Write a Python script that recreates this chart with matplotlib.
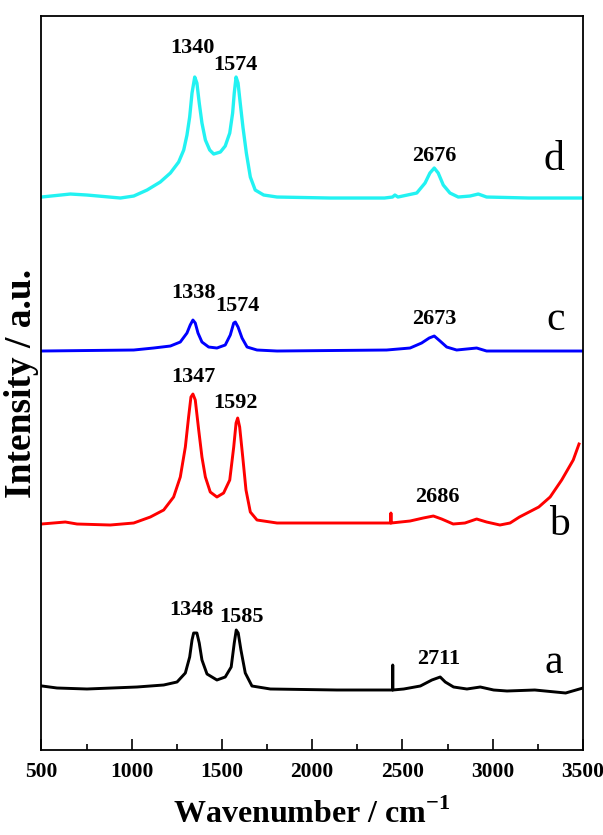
import matplotlib
matplotlib.use('Agg')
import matplotlib.pyplot as plt
from matplotlib.ticker import MultipleLocator

plt.rcParams['font.family'] = 'Liberation Serif'
plt.rcParams['mathtext.fontset'] = 'custom'
plt.rcParams['mathtext.rm'] = 'Liberation Serif'
plt.rcParams['mathtext.bf'] = 'Liberation Serif:bold'

# spectra (wavenumber, intensity in arbitrary units)
d_x = [500, 660, 752, 937, 1011, 1085, 1158, 1214, 1260, 1288, 1306, 1321, 1334, 1349, 1361,
       1374, 1389, 1408, 1432, 1454, 1491, 1518, 1543, 1559, 1568, 1578, 1589, 1601, 1616,
       1635, 1657, 1684, 1731, 1805, 2100, 2400, 2445, 2458, 2475, 2579, 2625, 2652, 2676,
       2698, 2726, 2763, 2809, 2874, 2920, 2966, 3200, 3500]
d_y = [553, 556, 555, 552, 554, 560, 568, 577, 588, 600, 615, 633, 657, 673, 667,
       647, 627, 610, 600, 596, 598, 604, 617, 637, 657, 673, 667, 647, 623,
       597, 573, 560, 555, 553, 552, 552, 553, 555, 553, 557, 567, 577, 582,
       577, 565, 557, 553, 554, 556, 553, 552, 552]

c_x = [500, 1011, 1121, 1214, 1269, 1306, 1324, 1339, 1352, 1367, 1389, 1426, 1472, 1518,
       1546, 1565, 1574, 1589, 1611, 1639, 1694, 1805, 2412, 2542, 2606, 2648, 2676, 2708,
       2745, 2800, 2911, 2966, 3500]
c_y = [399, 400, 402, 404, 408, 417, 425, 430, 427, 417, 408, 403, 402, 405,
       415, 427, 428, 423, 412, 403, 400, 399, 400, 402, 407, 412, 414, 409,
       403, 400, 402, 399, 399]

b_x = [500, 632, 697, 881, 1011, 1103, 1177, 1232, 1269, 1297, 1315, 1328, 1339, 1352, 1371,
       1389, 1408, 1435, 1472, 1509, 1543, 1565, 1578, 1587, 1598, 1615, 1633, 1657, 1694,
       1805, 1950, 2320, 2435, 2436, 2437, 2542, 2615, 2671, 2717, 2781, 2846, 2911, 2966,
       3040, 3096, 3148, 3255, 3318, 3382, 3446, 3478]
b_y = [226, 228, 226, 225, 227, 233, 240, 253, 273, 303, 333, 353, 356, 350, 320,
       293, 273, 258, 253, 257, 270, 303, 327, 332, 323, 293, 260, 238, 230,
       227, 227, 227, 227, 237, 227, 229, 232, 234, 231, 226, 227, 231, 228,
       225, 227, 233, 243, 253, 270, 290, 306]

a_x = [503, 586, 752, 1029, 1177, 1251, 1297, 1321, 1334, 1343, 1361, 1374, 1389, 1417, 1472,
       1518, 1551, 1568, 1579, 1590, 1605, 1629, 1666, 1768, 2137, 2445, 2446, 2447, 2507,
       2599, 2663, 2709, 2737, 2783, 2857, 2931, 3005, 3079, 3233, 3404, 3500]
a_y = [64, 62, 61, 63, 65, 68, 77, 93, 110, 117, 117, 107, 90, 76, 70,
       73, 83, 107, 120, 117, 100, 77, 64, 61, 60, 60, 85, 60, 61,
       64, 70, 73, 68, 63, 61, 63, 60, 59, 60, 57, 62]

# peak labels: text, x, y
peak_text = ['1340', '1574', '2676', '1338', '1574', '2673',
             '1347', '1592', '2686', '1348', '1585', '2711']
peak_x = [1334, 1575, 2679, 1342, 1585, 2679, 1342, 1575, 2694, 1329, 1609, 2700]
peak_y = [702, 685, 594, 457, 444, 431, 373, 347, 253, 140, 133, 91]

curve_names = ['d', 'c', 'b', 'a']
name_x = [3340, 3350, 3372, 3340]
name_y = [590, 430, 225, 87]

fig = plt.figure(figsize=(6.03, 8.35), dpi=100)
ax = fig.add_axes([0.0688, 0.1018, 0.898, 0.879])

ax.plot(d_x, d_y, color='#22F2F2', lw=2.4)
ax.plot(c_x, c_y, color='#0000FF', lw=2.1)
ax.plot(b_x, b_y, color='#FF0000', lw=2.1)
ax.plot(a_x, a_y, color='black', lw=2.1)

for t, x, y in zip(peak_text, peak_x, peak_y):
    ax.text(x, y, t, ha='center', va='center', fontsize=16, fontweight='bold')

for t, x, y in zip(curve_names, name_x, name_y):
    ax.text(x, y, t, ha='center', va='center', fontsize=30)

ax.set_xlim(500, 3500)
ax.set_ylim(0, 734)
ax.xaxis.set_major_locator(MultipleLocator(500))
ax.xaxis.set_minor_locator(MultipleLocator(250))
ax.tick_params(axis='x', which='major', direction='in', length=8, width=1.2,
               labelsize=15.5, pad=9)
ax.tick_params(axis='x', which='minor', direction='in', length=4.5, width=1.2)
ax.set_yticks([])
for lab in ax.get_xticklabels():
    lab.set_fontweight('bold')
for s in ax.spines.values():
    s.set_linewidth(1.3)

ax.set_xlabel(r'Wavenumber / cm$^{\mathbf{-1}}$', fontsize=23, fontweight='bold', labelpad=12)
ax.set_ylabel('Intensity / a.u.', fontsize=27, fontweight='bold', labelpad=2)

fig.savefig('out.png', dpi=100)
